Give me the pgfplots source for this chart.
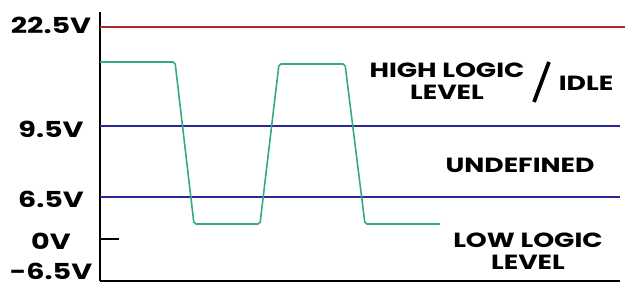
\documentclass[border=0pt]{standalone}
\usepackage{pgfplots}
\pgfplotsset{compat=1.18}
\usepackage{fontspec}
\setmainfont{Poppins}[FakeStretch=1.3]
\definecolor{redline}{RGB}{165,45,45}
\definecolor{blueline}{RGB}{40,40,150}
\definecolor{greensig}{RGB}{55,170,125}
\newcommand{\lab}{\bfseries\fontsize{20.5}{22}\selectfont}
\newcommand{\tlab}{\bfseries\fontsize{22}{22}\selectfont}
\begin{document}
\begin{tikzpicture}[x=1pt,y=1pt]
\path[use as bounding box] (0,0) rectangle (625,287);
\begin{axis}[
  at={(100pt,6pt)}, anchor=south west,
  scale only axis, width=520pt, height=269pt,
  xmin=100, xmax=620, ymin=6, ymax=275,
  axis lines=left, axis line style={-, line width=1.6pt, black},
  clip=false,
  xtick=\empty,
  ytick={16,46,88,158,262},
  yticklabels={-6.5V,0V,6.5V,9.5V,22.5V},
  major tick length=0pt,
  yticklabel style={anchor=center, xshift=-49pt, font=\tlab, inner sep=0pt},
]
\addplot[redline, line width=1.4pt] coordinates {(100,260) (625,260)};
\addplot[blueline, line width=1.4pt] coordinates {(100,161) (620,161)};
\addplot[blueline, line width=1.4pt] coordinates {(100,90) (620,90)};
\addplot[black, line width=1.4pt] coordinates {(100,48) (119,48)};
\addplot[greensig, line width=1.6pt, rounded corners=2pt] coordinates {
  (100,225) (175,225) (194,63) (260,63) (279,223) (345,223) (365,63) (440,63)};
\node[font=\lab, align=center, inner sep=0pt] at (axis cs:447,206) {HIGH LOGIC\\LEVEL};
\draw[black, line width=3.8pt] (axis cs:534,185) -- (axis cs:549,225);
\node[font=\lab, inner sep=0pt] at (axis cs:586,204) {IDLE};
\node[font=\lab, inner sep=0pt] at (axis cs:520,122) {UNDEFINED};
\node[font=\lab, align=center, inner sep=0pt] at (axis cs:528,36) {LOW LOGIC\\LEVEL};
\end{axis}
\end{tikzpicture}
\end{document}
